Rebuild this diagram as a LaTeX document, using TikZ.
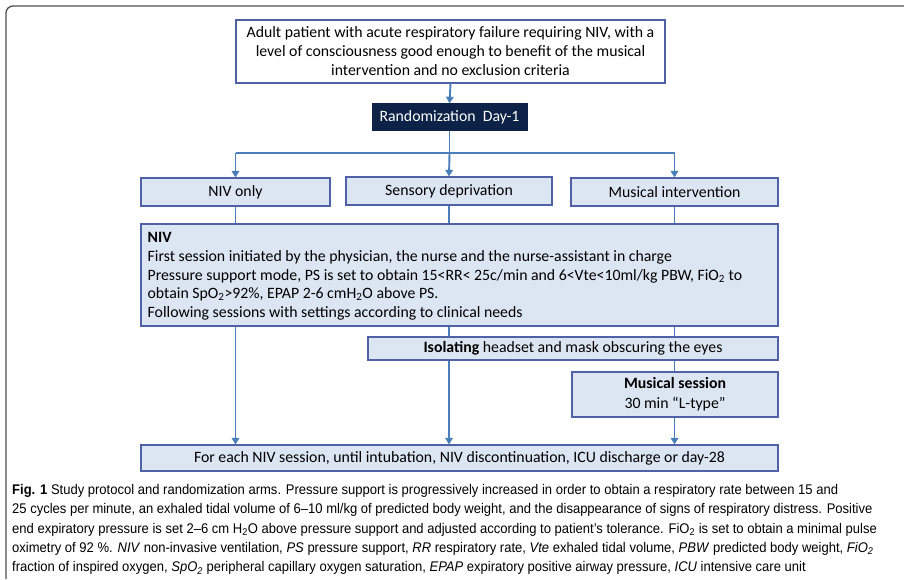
\documentclass[tikz,border=0pt]{standalone}
\usepackage{fontspec}
\setmainfont{Carlito}
\newfontfamily\capfont{Liberation Sans}[FakeStretch=0.93]
\usetikzlibrary{arrows.meta}
\definecolor{boxfill}{HTML}{DCE6F2}
\definecolor{boxline}{HTML}{4F62A8}
\definecolor{conn}{HTML}{4A7EBB}
\definecolor{navy}{HTML}{0C2246}
\definecolor{framec}{HTML}{505050}
\begin{document}
\begin{tikzpicture}[x=1pt,y=-1pt,
  box/.style={draw=boxline, line width=1.1pt, fill=boxfill, inner sep=0pt, font=\fontsize{15.8}{19}\selectfont, align=center},
  wbox/.style={box, fill=white},
  link/.style={draw=conn, line width=1.9pt},
  arr/.style={link, -{Triangle[width=7.5pt,length=6.5pt]}},
]
\useasboundingbox (0,0) rectangle (904,579);
\draw[framec, line width=1.3pt, rounded corners=7pt] (6,579) -- (6,6) -- (904,6);

\node[wbox, minimum width=429pt, minimum height=63pt] (top) at (450.5,51.5)
  {Adult patient with acute respiratory failure requiring NIV, with a\\level of consciousness good enough to benefit of the musical\\intervention and no exclusion criteria};
\node[draw=navy, fill=navy, text=white, minimum width=155pt, minimum height=27pt, inner sep=0pt, font=\fontsize{15.8}{19}\selectfont] (rand) at (449.5,117) {Randomization\ \ Day-1};

\node[box, minimum width=189pt, minimum height=28pt] (niv) at (235.5,192) {NIV only};
\node[box, minimum width=206pt, minimum height=28pt] (sens) at (449,191) {Sensory deprivation};
\node[box, minimum width=207pt, minimum height=28pt] (mus) at (674.5,192) {Musical intervention};

\node[box, minimum width=637pt, minimum height=102pt] (nivbox) at (459.5,275) {};
\node[anchor=north west, align=left, inner sep=0pt, font=\fontsize{15.8}{18.6}\selectfont] (nivtext) at ([xshift=7pt,yshift=-9pt]nivbox.north west)
  {\textbf{NIV}\\
   First session initiated by the physician, the nurse and the nurse-assistant in charge\\
   Pressure support mode, PS is set to obtain 15<RR< 25c/min and 6<Vte<10ml/kg PBW, FiO\textsubscript{2} to\\
   obtain SpO\textsubscript{2}>92\%, EPAP 2-6 cmH\textsubscript{2}O above PS.\\
   Following sessions with settings according to clinical needs};

\node[box, minimum width=410pt, minimum height=23pt] (iso) at (573,348.5) {\textbf{Isolating} headset and mask obscuring the eyes};
\node[box, minimum width=206pt, minimum height=45pt, font=\fontsize{15.8}{20}\selectfont] (sess) at (675,394.5) {\textbf{Musical session}\\30 min “L-type”};
\node[box, minimum width=637pt, minimum height=26pt] (final) at (459.5,458) {For each NIV session, until intubation, NIV discontinuation, ICU discharge or day-28};

% connectors
\draw[arr] (top.south) -- (rand.north);
\coordinate (split) at (449.5,153);
\coordinate (sl) at (niv.north |- split);
\coordinate (sr) at (mus.north |- split);
\draw[link] (rand.south) -- (split);
\draw[link] (sl) -- (sr);
\draw[arr] (sl) -- (niv.north);
\draw[arr] (split) -- (sens.north);
\draw[arr] (sr) -- (mus.north);

\draw[link] (niv.south) -- (niv.south |- nivbox.north);
\draw[link] (sens.south) -- (sens.south |- nivbox.north);
\draw[link] (mus.south) -- (mus.south |- nivbox.north);

\draw[arr] (niv.south |- nivbox.south) -- (niv.south |- final.north);
\draw[link] (sens.south |- nivbox.south) -- (sens.south |- iso.north);
\draw[link] (mus.south |- nivbox.south) -- (mus.south |- iso.north);
\draw[arr] (sens.south |- iso.south) -- (sens.south |- final.north);
\draw[link] (mus.south |- iso.south) -- (mus.south |- sess.north);
\draw[arr] (mus.south |- sess.south) -- (mus.south |- final.north);

% caption
\node[anchor=north west, align=left, inner sep=0pt, font=\capfont\fontsize{14}{19.4}\selectfont] (cap) at (12,484)
  {\textbf{Fig. 1} Study protocol and randomization arms. Pressure support is progressively increased in order to obtain a respiratory rate between 15 and\\
   25 cycles per minute, an exhaled tidal volume of 6–10 ml/kg of predicted body weight, and the disappearance of signs of respiratory distress. Positive\\
   end expiratory pressure is set 2–6 cm H\textsubscript{2}O above pressure support and adjusted according to patient’s tolerance. FiO\textsubscript{2} is set to obtain a minimal pulse\\
   oximetry of 92 \%. \textit{NIV} non-invasive ventilation, \textit{PS} pressure support, \textit{RR} respiratory rate, \textit{Vte} exhaled tidal volume, \textit{PBW} predicted body weight, \textit{FiO\textsubscript{2}}\\
   fraction of inspired oxygen, \textit{SpO\textsubscript{2}} peripheral capillary oxygen saturation, \textit{EPAP} expiratory positive airway pressure, \textit{ICU} intensive care unit};
\end{tikzpicture}
\end{document}
